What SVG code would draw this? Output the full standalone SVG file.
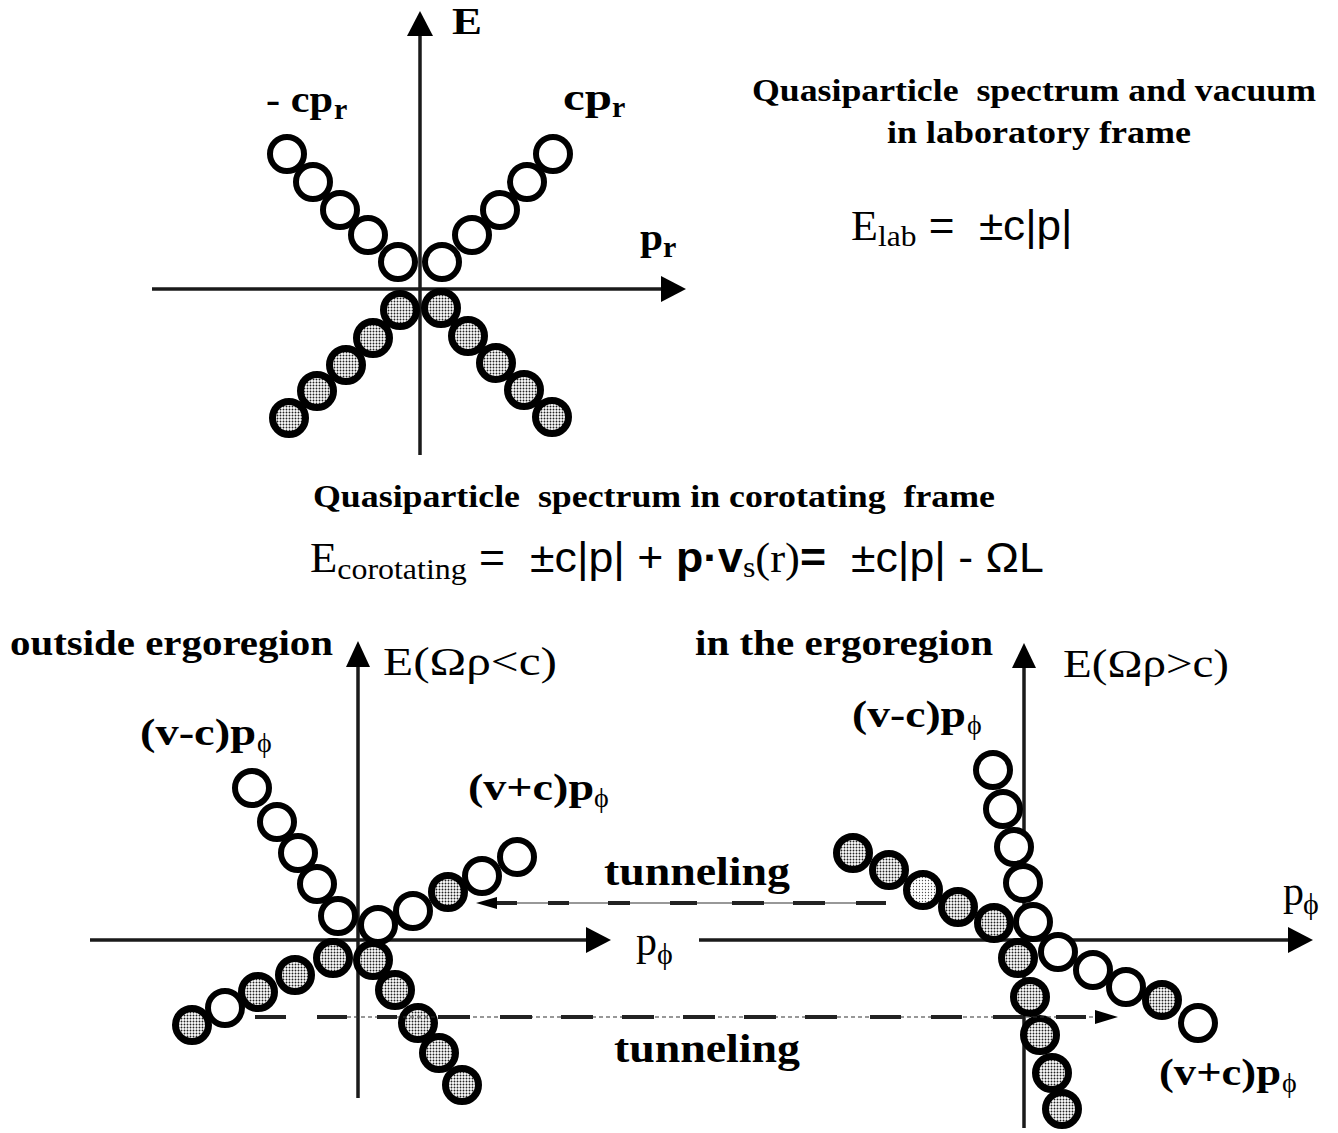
<svg xmlns="http://www.w3.org/2000/svg" width="1338" height="1133" viewBox="0 0 1338 1133">
<defs>
<pattern id="dots" patternUnits="userSpaceOnUse" width="3" height="3">
<rect width="3" height="3" fill="#ffffff"/>
<circle cx="1.5" cy="1.5" r="0.95" fill="#222"/>
</pattern>
<pattern id="dotsLight" patternUnits="userSpaceOnUse" width="3" height="3">
<rect width="3" height="3" fill="#ffffff"/>
<circle cx="1.5" cy="1.5" r="0.65" fill="#555"/>
</pattern>
</defs>
<style>
.ax{stroke:#1a1a1a;stroke-width:3.5;fill:none}
.ah{fill:#000}
.w{fill:#fff;stroke:#000;stroke-width:6}
.s{fill:url(#dots);stroke:#000;stroke-width:7}
.s2{fill:url(#dotsLight);stroke:#000;stroke-width:7}
.thin{stroke:#333;stroke-width:1.2;fill:none}
.dash{stroke:#222;stroke-width:4;fill:none}
.b{font-family:"Liberation Serif","Times New Roman",serif;font-weight:bold;fill:#000}
.r{font-family:"Liberation Serif","Times New Roman",serif;fill:#000}
.sa{font-family:"Liberation Sans",Arial,sans-serif;fill:#000}
</style>
<rect width="1338" height="1133" fill="#fff"/>

<g id="top-plot">
<g id="top-axes">
<line class="ax" x1="420" y1="455" x2="420" y2="34"/>
<polygon class="ah" points="420,11 407,36 433,36"/>
<line class="ax" x1="152" y1="289" x2="664" y2="289"/>
<polygon class="ah" points="686,289 661,276 661,302"/>
</g>
<g id="top-empty">
<circle class="w" cx="287" cy="154" r="17"/>
<circle class="w" cx="313" cy="182" r="17"/>
<circle class="w" cx="340" cy="210" r="17"/>
<circle class="w" cx="368" cy="235" r="17"/>
<circle class="w" cx="398" cy="262" r="17"/>
<circle class="w" cx="442" cy="262" r="17"/>
<circle class="w" cx="472" cy="235" r="17"/>
<circle class="w" cx="500" cy="210" r="17"/>
<circle class="w" cx="527" cy="182" r="17"/>
<circle class="w" cx="553" cy="154" r="17"/>
</g>
<g id="top-filled">
<circle class="s" cx="400" cy="310" r="16.5"/>
<circle class="s" cx="373" cy="338" r="16.5"/>
<circle class="s" cx="346" cy="365" r="16.5"/>
<circle class="s" cx="317" cy="391" r="16.5"/>
<circle class="s" cx="289" cy="418" r="16.5"/>
<circle class="s" cx="441" cy="308" r="16.5"/>
<circle class="s" cx="468" cy="336" r="16.5"/>
<circle class="s" cx="496" cy="363" r="16.5"/>
<circle class="s" cx="524" cy="390" r="16.5"/>
<circle class="s" cx="552" cy="417" r="16.5"/>
</g>
<text class="b" x="452" y="34" font-size="38" textLength="30" lengthAdjust="spacingAndGlyphs">E</text>
<text class="b" x="266" y="112" font-size="38" textLength="67" lengthAdjust="spacingAndGlyphs">- cp</text>
<text class="b" x="334" y="119" font-size="30">r</text>
<text class="b" x="563" y="110" font-size="38" textLength="49" lengthAdjust="spacingAndGlyphs">cp</text>
<text class="b" x="612" y="117" font-size="30">r</text>
<text class="b" x="640" y="250" font-size="38" textLength="23" lengthAdjust="spacingAndGlyphs">p</text>
<text class="b" x="663" y="257" font-size="30">r</text>
</g>

<g id="lab-caption">
<text class="b" x="752" y="101" font-size="32" textLength="564" lengthAdjust="spacingAndGlyphs" xml:space="preserve">Quasiparticle  spectrum and vacuum</text>
<text class="b" x="887" y="143" font-size="32" textLength="304" lengthAdjust="spacingAndGlyphs">in laboratory frame</text>
<g transform="translate(851,0) scale(1.05,1) translate(-851,0)">
<text x="851" y="240" font-size="42"><tspan class="r">E</tspan><tspan class="r" font-size="30" dy="6">lab</tspan><tspan class="sa" dy="-6" xml:space="preserve"> =  ±c|p|</tspan></text>
</g>
</g>

<g id="corotating-caption">
<text class="b" x="313" y="507" font-size="32" textLength="682" lengthAdjust="spacingAndGlyphs" xml:space="preserve">Quasiparticle  spectrum in corotating  frame</text>
<g transform="translate(310,0) scale(1.064,1) translate(-310,0)">
<text x="310" y="572" font-size="42"><tspan class="r">E</tspan><tspan class="r" font-size="30" dy="7">corotating</tspan><tspan class="sa" dy="-7" xml:space="preserve"> =  ±c|p| + </tspan><tspan class="sa" font-weight="bold">p·v</tspan><tspan class="r" font-size="30" dy="5">s</tspan><tspan class="r" dy="-5">(r)</tspan><tspan class="sa" font-weight="bold">=</tspan><tspan class="sa" xml:space="preserve">  ±c|p| - ΩL</tspan></text>
</g>
</g>

<g id="left-plot">
<g id="left-axes">
<line class="ax" x1="358" y1="1098" x2="358" y2="664"/>
<polygon class="ah" points="358,641 346,667 370,667"/>
<line class="ax" x1="90" y1="940" x2="588" y2="940"/>
<polygon class="ah" points="611,940 586,927 586,953"/>
</g>
<g id="left-circles">
<circle class="w" cx="252" cy="788" r="17"/>
<circle class="w" cx="277" cy="822" r="17"/>
<circle class="w" cx="298" cy="853" r="17"/>
<circle class="w" cx="317" cy="884" r="17"/>
<circle class="w" cx="338" cy="916" r="17"/>
<circle class="w" cx="378" cy="925" r="17"/>
<circle class="w" cx="413" cy="911" r="17"/>
<circle class="s" cx="448" cy="892" r="16.5"/>
<circle class="w" cx="482" cy="876" r="17"/>
<circle class="w" cx="517" cy="857" r="17"/>
<circle class="s" cx="333" cy="958" r="16.5"/>
<circle class="s" cx="295" cy="975" r="16.5"/>
<circle class="s" cx="258" cy="992" r="16.5"/>
<circle class="w" cx="225" cy="1008" r="17"/>
<circle class="s" cx="192" cy="1025" r="16.5"/>
<circle class="s" cx="373" cy="960" r="16.5"/>
<circle class="s" cx="395" cy="990" r="16.5"/>
<circle class="s" cx="418" cy="1023" r="16.5"/>
<circle class="s" cx="439" cy="1053" r="16.5"/>
<circle class="s" cx="462" cy="1085" r="16.5"/>
</g>
<text class="b" x="10" y="655" font-size="35" textLength="323" lengthAdjust="spacingAndGlyphs">outside ergoregion</text>
<text class="r" x="383" y="675" font-size="40" textLength="174" lengthAdjust="spacingAndGlyphs">E(Ωρ&lt;c)</text>
<text class="b" x="140" y="745" font-size="37" textLength="116" lengthAdjust="spacingAndGlyphs">(v-c)p</text>
<text class="r" x="257" y="752" font-size="28">ϕ</text>
<text class="b" x="468" y="800" font-size="37" textLength="126" lengthAdjust="spacingAndGlyphs">(v+c)p</text>
<text class="r" x="594" y="807" font-size="28">ϕ</text>
<text class="r" x="636" y="955" font-size="40" textLength="21" lengthAdjust="spacingAndGlyphs">p</text>
<text class="r" x="657" y="964" font-size="30">ϕ</text>
</g>

<g id="right-plot">
<g id="right-axes">
<line class="ax" x1="1024" y1="1128" x2="1024" y2="664"/>
<polygon class="ah" points="1024,643 1012,668 1036,668"/>
<line class="ax" x1="699" y1="940" x2="1290" y2="940"/>
<polygon class="ah" points="1313,940 1288,927 1288,953"/>
</g>
<g id="right-circles">
<circle class="w" cx="993" cy="770" r="17"/>
<circle class="w" cx="1003" cy="809" r="17"/>
<circle class="w" cx="1014" cy="847" r="17"/>
<circle class="w" cx="1023" cy="883" r="17"/>
<circle class="s" cx="853" cy="853" r="16.5"/>
<circle class="s" cx="889" cy="870" r="16.5"/>
<circle class="s2" cx="923" cy="890" r="16.5"/>
<circle class="s" cx="958" cy="907" r="16.5"/>
<circle class="s" cx="994" cy="923" r="16.5"/>
<circle class="w" cx="1033" cy="922" r="17"/>
<circle class="s" cx="1018" cy="958" r="16.5"/>
<circle class="w" cx="1058" cy="952" r="17"/>
<circle class="w" cx="1093" cy="970" r="17"/>
<circle class="w" cx="1126" cy="987" r="17"/>
<circle class="s" cx="1162" cy="1000" r="16.5"/>
<circle class="w" cx="1198" cy="1023" r="17"/>
<circle class="s" cx="1030" cy="997" r="16.5"/>
<circle class="s" cx="1040" cy="1035" r="16.5"/>
<circle class="s" cx="1052" cy="1073" r="16.5"/>
<circle class="s" cx="1062" cy="1109" r="16.5"/>
</g>
<text class="b" x="695" y="655" font-size="35" textLength="298" lengthAdjust="spacingAndGlyphs">in the ergoregion</text>
<text class="r" x="1063" y="677" font-size="40" textLength="166" lengthAdjust="spacingAndGlyphs">E(Ωρ&gt;c)</text>
<text class="b" x="852" y="727" font-size="37" textLength="114" lengthAdjust="spacingAndGlyphs">(v-c)p</text>
<text class="r" x="967" y="734" font-size="28">ϕ</text>
<text class="b" x="1159" y="1085" font-size="37" textLength="122" lengthAdjust="spacingAndGlyphs">(v+c)p</text>
<text class="r" x="1282" y="1092" font-size="28">ϕ</text>
<text class="r" x="1283" y="905" font-size="40" textLength="21" lengthAdjust="spacingAndGlyphs">p</text>
<text class="r" x="1303" y="914" font-size="30">ϕ</text>
</g>

<g id="connectors">
<g id="tunnel-upper">
<line class="thin" x1="490" y1="903" x2="886" y2="903"/>
<path class="dash" d="M495 903H517M548 903H569M608 903H630M670 903H697M732 903H764M793 903H825M856 903H886"/>
<polygon class="ah" points="476,903 497,897 497,909"/>
</g>
<g id="tunnel-lower">
<line class="thin" x1="347" y1="1017" x2="1100" y2="1017" stroke-dasharray="4 3"/>
<path class="dash" d="M255 1017H286M317 1017H347M377 1017H397M438 1017H470M500 1017H532M561 1017H593M622 1017H654M683 1017H715M744 1017H776M805 1017H837M870 1017H901M931 1017H962M993 1017H1023M1056 1017H1086"/>
<polygon class="ah" points="1118,1017 1095,1010 1095,1024"/>
</g>
<text class="b" x="604" y="885" font-size="40" textLength="186" lengthAdjust="spacingAndGlyphs">tunneling</text>
<text class="b" x="614" y="1062" font-size="40" textLength="186" lengthAdjust="spacingAndGlyphs">tunneling</text>
</g>
</svg>
